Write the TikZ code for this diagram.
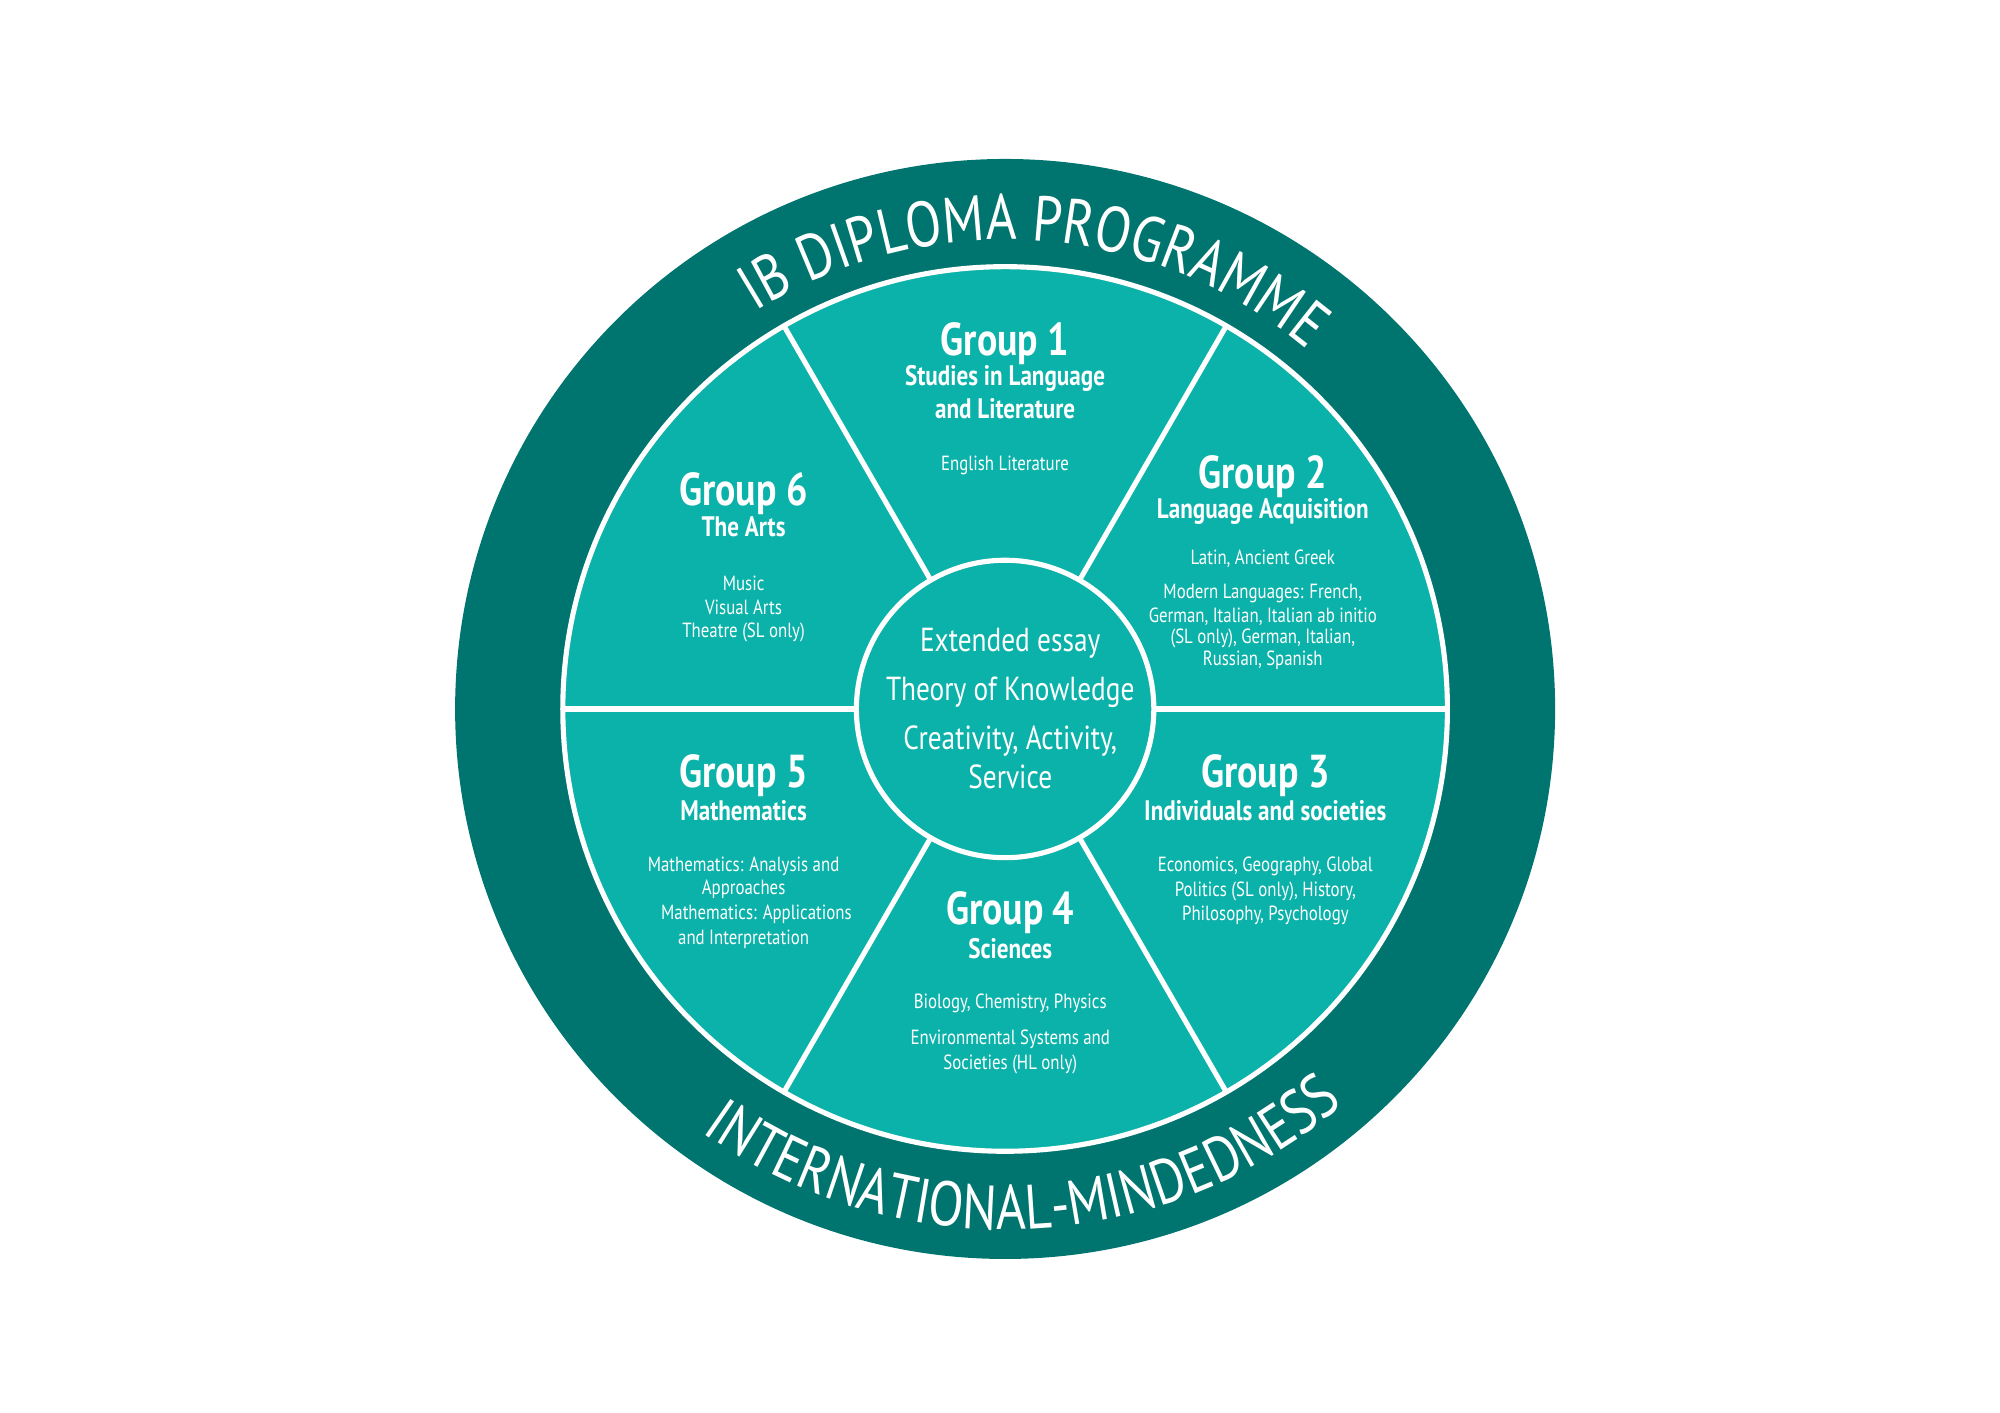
\documentclass[tikz,border=0pt]{standalone}
\usepackage{fontspec}
\setmainfont{PT Sans}[FakeStretch=0.82]
\usetikzlibrary{decorations.text}
\definecolor{ringc}{HTML}{00746E}
\definecolor{secc}{HTML}{0BB2A9}
\begin{document}
\begin{tikzpicture}[x=0.5pt,y=0.5pt,
  gt/.style={text=white,font=\fontsize{18}{20}\selectfont\bfseries,inner sep=0pt},
  st/.style={text=white,font=\fontsize{11}{13}\selectfont\bfseries,inner sep=0pt},
  it/.style={text=white,font=\fontsize{8}{10}\selectfont,inner sep=0pt},
  ct/.style={text=white,font=\fontsize{13}{15}\selectfont,inner sep=0pt},
  spoke/.style={white,line width=2pt}]
\useasboundingbox (-784,-549) rectangle (776,553);
\fill[ringc] (0,0) circle (429);
\fill[secc] (0,0) circle (345);
\draw[white,line width=2pt] (0,0) circle (345);
\foreach \a in {0,60,120,180,240,300}
  \draw[spoke] (\a:116) -- (\a:345);
\draw[white,line width=2pt,fill=secc] (0,0) circle (116);
% ring text
\path[decorate,decoration={text along path,text align=center,
  text={|\fontsize{25}{25}\selectfont\color{white}|IB DIPLOMA PROGRAMME}}]
  (146:366) arc (146:26:366);
\path[decorate,decoration={text along path,text align=center,
  text={|\fontsize{24.5}{25}\selectfont\color{white}|INTERNATIONAL-MINDEDNESS}}]
  (200:406) arc (200:345:406);
% Group 1
\node[gt] (g1) at (0,285) {Group 1};
\node[st] (g1a) at (0,258) {Studies in Language};
\node[st] (g1b) at (0,234) {and Literature};
\node[it] (g1c) at (0,190) {English Literature};
% Group 2
\node[gt] (g2) at (201,181) {Group 2};
\node[st] (g2a) at (201,154) {Language Acquisition};
\node[it] (g2b) at (201,117) {Latin, Ancient Greek};
\node[it] (g2c) at (201,90) {Modern Languages: French,};
\node[it] (g2d) at (201,72) {German, Italian, Italian ab initio};
\node[it] (g2e) at (201,55) {(SL only), German, Italian,};
\node[it] (g2f) at (201,38) {Russian, Spanish};
% Group 3
\node[gt] (g3) at (203,-52) {Group 3};
\node[st] (g3a) at (203,-79) {Individuals and societies};
\node[it] (g3b) at (203,-123) {Economics, Geography, Global};
\node[it] (g3c) at (203,-142) {Politics (SL only), History,};
\node[it] (g3d) at (203,-161) {Philosophy, Psychology};
% Group 4
\node[gt] (g4) at (4,-159) {Group 4};
\node[st] (g4a) at (4,-187) {Sciences};
\node[it] (g4b) at (4,-230) {Biology, Chemistry, Physics};
\node[it] (g4c) at (4,-258) {Environmental Systems and};
\node[it] (g4d) at (4,-277) {Societies (HL only)};
% Group 5
\node[gt] (g5) at (-204,-52) {Group 5};
\node[st] (g5a) at (-204,-79) {Mathematics};
\node[it] (g5b) at (-204,-123) {Mathematics: Analysis and};
\node[it] (g5c) at (-204,-141) {Approaches};
\node[it] (g5d) at (-194,-160) {Mathematics: Applications};
\node[it] (g5e) at (-204,-180) {and Interpretation};
% Group 6
\node[gt] (g6) at (-204,168) {Group 6};
\node[st] (g6a) at (-204,142) {The Arts};
\node[it] (g6b) at (-204,98) {Music};
\node[it] (g6c) at (-204,79) {Visual Arts};
\node[it] (g6d) at (-204,60) {Theatre (SL only)};
% core
\node[ct] (c1) at (4,51) {Extended essay};
\node[ct] (c2) at (4,13) {Theory of Knowledge};
\node[ct] (c3) at (4,-25) {Creativity, Activity,};
\node[ct] (c4) at (4,-53) {Service};
\end{tikzpicture}
\end{document}
